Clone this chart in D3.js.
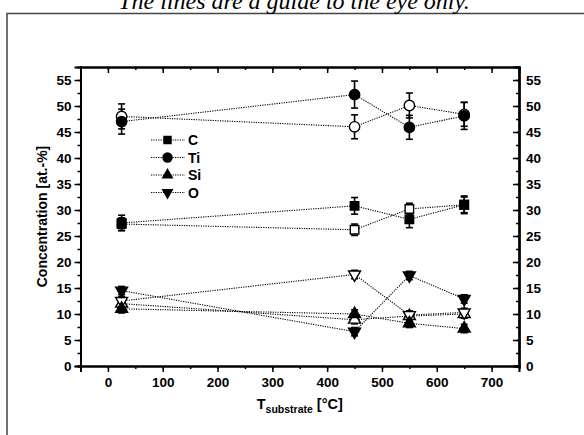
<!DOCTYPE html>
<html>
<head>
<meta charset="utf-8">
<script src="https://cdn.jsdelivr.net/npm/d3@7.9.0/dist/d3.min.js"></script>
<style>
  body { margin: 0; background: #fff; }
  svg { display: block; }
  text { font-family: "Liberation Sans", Arial, sans-serif; font-weight: bold; fill: #000; }
</style>
</head>
<body>
<svg width="584" height="435"></svg>
<script>
// substrate temperatures [°C]
const temps = [25, 450, 550, 650];

// filled symbols (legend series)
const cFilled  = [27.5, 30.8, 28.2, 31.0];
const tiFilled = [47.0, 52.2, 45.9, 48.1];
const siFilled = [11.0, 10.0, 8.2, 7.2];
const oFilled  = [14.5, 6.6, 17.4, 12.9];
const cFilledErr  = [1.5, 1.6, 1.6, 1.7];
const tiFilledErr = [2.4, 2.6, 2.3, 2.6];
const siFilledErr = [0.8, 0.8, 0.8, 0.8];
const oFilledErr  = [0.8, 0.8, 0.8, 0.8];

// open symbols
const cOpen  = [27.3, 26.2, 30.2, 31.0];
const tiOpen = [48.0, 46.0, 50.1, 48.4];
const siOpen = [12.0, 8.9, 9.6, 10.0];
const oOpen  = [12.5, 17.6, 9.8, 10.3];
const cOpenErr  = [1.2, 1.1, 1.1, 1.5];
const tiOpenErr = [2.4, 2.3, 2.4, 2.3];
const siOpenErr = [0.8, 0.8, 0.8, 0.8];
const oOpenErr  = [0.8, 0.8, 0.8, 0.8];

const legendLabels = ['C', 'Ti', 'Si', 'O'];
const xTicks = [0, 100, 200, 300, 400, 500, 600, 700];
const yTicks = [0, 5, 10, 15, 20, 25, 30, 35, 40, 45, 50, 55];

const svg = d3.select('svg');

const x = d3.scaleLinear().domain([-50, 750]).range([80.5, 519]);
const y = d3.scaleLinear().domain([0, 57.5]).range([366, 67]);

// outer frame + caption
svg.append('rect')
  .attr('x', 7).attr('y', 13.5).attr('width', 620).attr('height', 460)
  .attr('fill', 'none').attr('stroke', '#444').attr('stroke-width', 1.5);

svg.append('text')
  .attr('x', 294).attr('y', 9)
  .attr('text-anchor', 'middle')
  .style('font-family', '"Liberation Serif", "Times New Roman", serif')
  .style('font-weight', 'normal')
  .style('font-style', 'italic')
  .style('font-size', '24px')
  .text('The lines are a guide to the eye only.');

// axes
const minorY = d3.range(0, 57.5, 2.5);
const minorX = d3.range(-50, 751, 50);

svg.append('g').attr('transform', `translate(${x.range()[0]},0)`)
  .call(d3.axisLeft(y).tickValues(minorY).tickSize(3).tickFormat(''));
svg.append('g').attr('transform', `translate(${x.range()[0]},0)`)
  .call(d3.axisLeft(y).tickValues(yTicks).tickSize(6).tickPadding(3).tickFormat(d3.format('d')));

svg.append('g').attr('transform', `translate(${x.range()[1]},0)`)
  .call(d3.axisLeft(y).tickValues(minorY).tickSize(3).tickFormat(''));
svg.append('g').attr('transform', `translate(${x.range()[1]},0)`)
  .call(d3.axisLeft(y).tickValues(yTicks).tickSize(6).tickFormat(''));
svg.append('g').attr('transform', `translate(${x.range()[1]},0)`)
  .call(d3.axisRight(y).tickValues(yTicks).tickSize(0).tickPadding(7).tickFormat(d3.format('d')));

svg.append('g').attr('transform', `translate(0,${y.range()[0]})`)
  .call(d3.axisBottom(x).tickValues(minorX).tickSize(3).tickFormat(''));
svg.append('g').attr('transform', `translate(0,${y.range()[0]})`)
  .call(d3.axisBottom(x).tickValues(xTicks).tickSize(6).tickPadding(5).tickFormat(d3.format('d')));

svg.append('g').attr('transform', `translate(0,${y.range()[1]})`)
  .call(d3.axisBottom(x).tickValues(minorX).tickSize(3).tickFormat(''));
svg.append('g').attr('transform', `translate(0,${y.range()[1]})`)
  .call(d3.axisBottom(x).tickValues(xTicks).tickSize(6).tickFormat(''));

svg.selectAll('.domain').attr('stroke-width', 2).attr('stroke', '#000');
svg.selectAll('.tick line').attr('stroke-width', 1.5).attr('stroke', '#000');
svg.selectAll('.tick text').style('font-size', '13.5px').style('font-family', '"Liberation Sans", Arial, sans-serif').style('font-weight', 'bold');

// axis titles
svg.append('text')
  .attr('transform', `translate(47,${(y.range()[0] + y.range()[1]) / 2}) rotate(-90)`)
  .attr('text-anchor', 'middle')
  .style('font-size', '14px')
  .text('Concentration [at.-%]');

const xl = svg.append('text')
  .attr('x', (x.range()[0] + x.range()[1]) / 2).attr('y', 409)
  .attr('text-anchor', 'middle')
  .style('font-size', '14.5px');
xl.append('tspan').text('T');
xl.append('tspan').attr('dy', 4).style('font-size', '10.5px').text('substrate');
xl.append('tspan').attr('dy', -4).text(' [°C]');

// symbols
const sym = {
  C: d3.symbol().type(d3.symbolSquare).size(72),
  Ti: d3.symbol().type(d3.symbolCircle).size(85),
  Si: d3.symbol().type(d3.symbolTriangle).size(62),
  O: d3.symbol().type(d3.symbolTriangle).size(62)
};
const rot = { C: 0, Ti: 0, Si: 0, O: 180 };

const series = [
  { key: 'C', vals: cOpen, err: cOpenErr, open: true },
  { key: 'Ti', vals: tiOpen, err: tiOpenErr, open: true },
  { key: 'Si', vals: siOpen, err: siOpenErr, open: true },
  { key: 'O', vals: oOpen, err: oOpenErr, open: true },
  { key: 'C', vals: cFilled, err: cFilledErr, open: false },
  { key: 'Ti', vals: tiFilled, err: tiFilledErr, open: false },
  { key: 'Si', vals: siFilled, err: siFilledErr, open: false },
  { key: 'O', vals: oFilled, err: oFilledErr, open: false }
];

const line = d3.line().x(d => x(d[0])).y(d => y(d[1]));
const plot = svg.append('g');

series.forEach(s => {
  plot.append('path')
    .attr('d', line(temps.map((t, i) => [t, s.vals[i]])))
    .attr('fill', 'none').attr('stroke', '#000')
    .attr('stroke-width', 1.1).attr('stroke-dasharray', '1.2,1.2');
});

series.forEach(s => {
  temps.forEach((t, i) => {
    const cx = x(t), y0 = y(s.vals[i] - s.err[i]), y1 = y(s.vals[i] + s.err[i]);
    const g = plot.append('g').attr('stroke', '#000').attr('stroke-width', 1.6);
    g.append('line').attr('x1', cx).attr('x2', cx).attr('y1', y0).attr('y2', y1);
    g.append('line').attr('x1', cx - 3.5).attr('x2', cx + 3.5).attr('y1', y0).attr('y2', y0);
    g.append('line').attr('x1', cx - 3.5).attr('x2', cx + 3.5).attr('y1', y1).attr('y2', y1);
  });
});

series.forEach(s => {
  temps.forEach((t, i) => {
    plot.append('path')
      .attr('d', sym[s.key]())
      .attr('transform', `translate(${x(t)},${y(s.vals[i])}) rotate(${rot[s.key]})`)
      .attr('fill', s.open ? '#fff' : '#000')
      .attr('stroke', '#000').attr('stroke-width', 1.4);
  });
});

// legend
const legend = svg.append('g');
legendLabels.forEach((k, i) => {
  const ly = 140 + i * 17.5;
  legend.append('line')
    .attr('x1', 151).attr('x2', 185).attr('y1', ly).attr('y2', ly)
    .attr('stroke', '#000').attr('stroke-width', 1.1).attr('stroke-dasharray', '1.2,1.2');
  legend.append('path')
    .attr('d', sym[k]())
    .attr('transform', `translate(167.5,${ly}) rotate(${rot[k]})`)
    .attr('fill', '#000');
  legend.append('text')
    .attr('x', 188).attr('y', ly + 5)
    .style('font-size', '14px')
    .text(k);
});
</script>
</body>
</html>
